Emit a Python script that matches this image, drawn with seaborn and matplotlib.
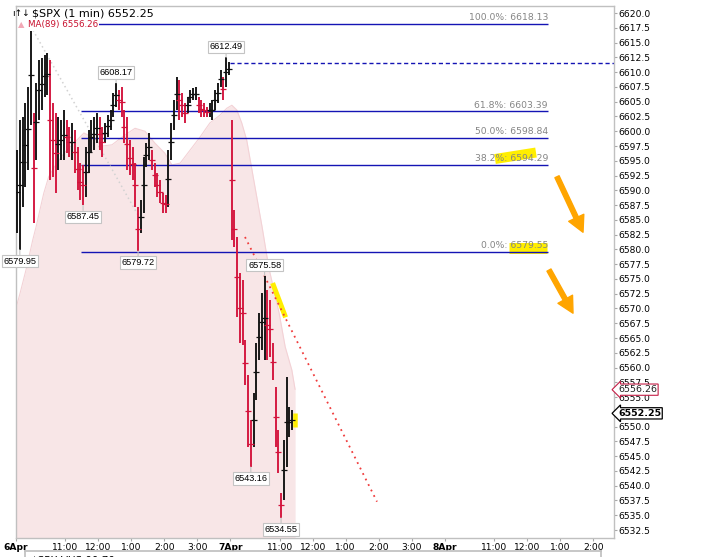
import numpy as np
import pandas as pd
import matplotlib
matplotlib.use("Agg")
import matplotlib.pyplot as plt
import seaborn as sns
from matplotlib.transforms import blended_transform_factory

sns.set_theme(style="white")
plt.rcParams['font.family'] = ['DejaVu Sans']

# ---------------- data ----------------
day_labels = ["6Apr", "7Apr", "8Apr"]
hour_labels = ["11:00", "12:00", "1:00", "2:00", "3:00"]
hour_offsets = [90, 150, 210, 270, 330]          # minutes after the 9:30 open
session_minutes = 390
bar_minutes = 5

day1_high = [6596.82, 6601.89, 6602.40, 6604.77, 6607.48, 6618.13, 6603.08, 6608.15, 6612.05, 6612.38,
             6612.89, 6613.23, 6612.05, 6604.77, 6603.08, 6602.40, 6601.89, 6603.58, 6601.89, 6600.71,
             6601.38, 6600.20, 6597.32, 6594.61, 6594.28, 6597.32, 6600.20, 6601.89, 6602.40, 6603.08,
             6602.40, 6600.71, 6601.38, 6602.74, 6603.58, 6606.46, 6608.17, 6606.97, 6607.48, 6603.58,
             6602.40, 6598.51, 6597.32, 6594.61, 6587.17, 6588.35, 6595.63, 6598.00, 6599.69, 6596.82,
             6594.61, 6592.92, 6591.74, 6589.54, 6589.20, 6596.82, 6601.38, 6605.28, 6609.17, 6608.66,
             6606.46, 6604.77, 6605.78, 6606.97, 6607.31, 6607.48, 6605.78, 6605.28, 6604.77, 6604.09,
             6604.77, 6605.28, 6606.97, 6608.15, 6610.35, 6609.17, 6612.49, 6611.71]
day1_low = [6582.77, 6579.95, 6587.17, 6590.55, 6593.43, 6601.05, 6584.46, 6595.12, 6601.89, 6603.58,
            6605.78, 6606.12, 6591.74, 6592.25, 6589.54, 6593.43, 6595.12, 6595.12, 6596.31, 6595.63,
            6595.12, 6592.92, 6590.05, 6588.35, 6587.45, 6588.86, 6592.92, 6596.31, 6596.82, 6598.00,
            6596.82, 6595.63, 6598.00, 6599.02, 6600.20, 6602.40, 6604.09, 6603.58, 6602.40, 6598.00,
            6593.43, 6592.59, 6591.74, 6587.17, 6579.72, 6582.77, 6586.15, 6593.94, 6595.12, 6593.43,
            6590.55, 6588.86, 6587.85, 6586.15, 6586.15, 6587.17, 6595.12, 6600.20, 6603.58, 6601.89,
            6602.40, 6601.38, 6603.08, 6604.77, 6605.28, 6605.28, 6603.08, 6602.40, 6602.40, 6602.40,
            6602.40, 6601.89, 6603.58, 6604.77, 6607.48, 6605.28, 6607.48, 6609.51]
day2_high = [6601.89, 6586.66, 6582.09, 6576.00, 6574.82, 6564.66, 6558.74, 6551.12, 6555.69, 6564.15,
             6569.23, 6572.62, 6575.58, 6573.12, 6571.43, 6564.15, 6556.71, 6549.43, 6538.77, 6547.74,
             6558.40, 6553.32, 6552.81]
day2_low = [6581.58, 6580.40, 6568.55, 6564.15, 6563.81, 6557.05, 6546.55, 6543.16, 6546.55, 6554.51,
            6561.28, 6562.97, 6561.28, 6561.28, 6561.78, 6557.89, 6546.55, 6542.15, 6534.55, 6537.58,
            6543.17, 6548.25, 6549.43]

ma_minute = [0, 8, 20, 31, 37, 51, 60, 70, 88, 106, 124, 142, 157, 175, 199, 217, 235, 253, 271, 284,
             299, 317, 335, 353, 371, 384, 393, 402, 411, 420, 435, 448, 460, 479, 490, 502, 508]
ma_value = [6569.9, 6572.6, 6577.0, 6581.6, 6583.8, 6589.5, 6592.3, 6593.9, 6596.3, 6598.0,
            6599.7, 6598.9, 6597.5, 6597.7, 6599.4, 6600.5, 6600.0, 6598.0, 6596.3, 6594.3,
            6594.6, 6596.8, 6599.0, 6601.4, 6602.7, 6603.9, 6604.4, 6603.6, 6601.4, 6598.5,
            6590.6, 6583.8, 6577.0, 6569.2, 6563.5, 6559.6, 6556.3]

fib_pct = ["100.0%", "61.8%", "50.0%", "38.2%", "0.0%"]
fib_level = [6618.13, 6603.39, 6598.84, 6594.29, 6579.55]
fib_minute = [118.7, 967.8]

day1_close = 6611.6
last_price = 6552.25
last_ma = 6556.26

# callouts: (bar minute, price, side)
callout_minute = [7.5, 122.5, 182.5, 222.5, 382.5, 452.5, 427.5, 482.5]
callout_price = [6579.95, 6587.45, 6608.17, 6579.72, 6612.49, 6575.58, 6543.16, 6534.55]
callout_side = ["below", "below", "above", "below", "above", "above", "below", "below"]

trend_gray_minute = [31.5, 222.4]
trend_gray_price = [6617.1, 6585.8]
trend_red_minute = [416.9, 656.9]
trend_red_price = [6582.1, 6537.3]

arrow_tail_minute = [984.2, 969.6]
arrow_tail_price = [6592.3, 6576.5]
arrow_tip_minute = [1031.5, 1013.3]
arrow_tip_price = [6582.9, 6569.2]

# yellow marker strokes: (minute0, price0, minute1, price1, width px)
marks = [(871.5, 6595.3, 946.0, 6596.4, 10),
         (896.9, 6580.3, 966.0, 6580.3, 11),
         (467.1, 6574.3, 490.7, 6568.5, 5),
         (507.8, 6552.3, 507.8, 6549.9, 4.5)]

# ---------------- figure ----------------
W, H = 712, 557
fig = plt.figure(figsize=(W / 100, H / 100), dpi=100)
L, R, T, B = 15.7, 614, 6, 537.7
ax = fig.add_axes([L / W, 1 - B / H, (R - L) / W, (B - T) / H])
x_max = (R - L) / 0.55
y_lo, y_hi = 6531.2, 6621.2
ax.set_xlim(0, x_max)
ax.set_ylim(y_lo, y_hi)
px = 0.72  # points per pixel

# MA(89) area
ax.fill_between(ma_minute, ma_value, y_lo, color="#f8e6e7", lw=0, zorder=0)
sns.lineplot(x=ma_minute, y=ma_value, ax=ax, color="#f3d2d6", lw=0.8, zorder=0.5)

# bars
bars = pd.DataFrame({
    "minute": np.r_[np.arange(len(day1_high)) * bar_minutes,
                    session_minutes + np.arange(len(day2_high)) * bar_minutes] + bar_minutes / 2,
    "high": day1_high + day2_high,
    "low": day1_low + day2_low,
})
mid = (bars["high"] + bars["low"]) / 2
bars["up"] = mid.diff().fillna(1) >= 0
red, blk = "#d3133c", "#111111"

# yellow marks (below bars/text)
for m0, p0, m1, p1, wpx in marks:
    ax.plot([m0, m1], [p0, p1], color="#ffee00", lw=wpx * px, solid_capstyle="butt", zorder=1.5)

ax.vlines(bars["minute"], bars["low"], bars["high"],
          colors=np.where(bars["up"], blk, red), lw=1.35, zorder=3)
sns.scatterplot(x=bars["minute"], y=mid, ax=ax, marker="_", s=18, linewidth=0.9,
                hue=bars["up"], palette={True: blk, False: red}, legend=False, zorder=3)

# fib lines
ax.hlines(fib_level, fib_minute[0], fib_minute[1], colors="#1414b4", lw=1.0, zorder=2)
for pct, lev in zip(fib_pct, fib_level):
    ax.annotate(f"{pct}: {lev:.2f}", xy=(fib_minute[1], lev), xytext=(0, 1.2),
                textcoords="offset points", ha="right", va="bottom",
                fontsize=6.7, color="#858585", zorder=4)

# day 1 close dashed
ax.hlines(day1_close, session_minutes, x_max, colors="#1414b4", lw=1.0,
          linestyles=(0, (3, 2)), zorder=2)

# trend lines
ax.plot(trend_gray_minute, trend_gray_price, color="#d2d2d2", lw=1.1, ls=(0, (1, 2)), zorder=2)
ax.plot(trend_red_minute, trend_red_price, color="#f03c3c", lw=1.3, ls=(0, (1, 2.4)), zorder=2.5)

# orange arrows
for tm, tp, hm, hp in zip(arrow_tail_minute, arrow_tail_price, arrow_tip_minute, arrow_tip_price):
    ax.annotate("", xy=(hm, hp), xytext=(tm, tp),
                arrowprops=dict(arrowstyle="simple,head_length=1.15,head_width=1.2,tail_width=0.33",
                                color="#ffa500", mutation_scale=10, shrinkA=0, shrinkB=0), zorder=4)

# callouts
for m, p, side in zip(callout_minute, callout_price, callout_side):
    dy = 10.5 if side == "above" else -11.5
    ax.annotate(f"{p:.2f}", xy=(m, p), xytext=(0, dy * px), textcoords="offset points",
                ha="center", va="center", fontsize=6.6, family="Liberation Sans", color="black",
                bbox=dict(boxstyle="square,pad=0.18", fc="white", ec="#c4c4c4", lw=0.8),
                arrowprops=dict(arrowstyle="-", color="#c4c4c4", lw=0.8, shrinkA=0, shrinkB=0),
                annotation_clip=False, zorder=6)

# axes styling
for s in ax.spines.values():
    s.set_color("#c0c0c0")
    s.set_linewidth(1.0)
ax.grid(False)
ax.yaxis.tick_right()
yt = np.arange(6532.5, 6620.01, 2.5)
ax.set_yticks(yt)
ax.set_yticklabels([f"{v:.1f}" for v in yt])
ax.tick_params(axis="y", length=3 * px, width=0.8, color="#a8a8a8", pad=1, labelsize=6.6,
               labelcolor="black", direction="out", right=True, left=False)

xt, xl, bold = [], [], []
for d, dl in enumerate(day_labels):
    xt.append(d * session_minutes); xl.append(dl); bold.append(True)
    for off, hl in zip(hour_offsets, hour_labels):
        if d * session_minutes + off <= x_max:
            xt.append(d * session_minutes + off); xl.append(hl); bold.append(False)
ax.set_xticks(xt)
ax.set_xticklabels(xl)
ax.tick_params(axis="x", length=3 * px, width=0.8, color="#a8a8a8", pad=1.5, labelsize=6.6,
               labelcolor="black", direction="out", bottom=True)
for lab, b in zip(ax.get_xticklabels(), bold):
    if b:
        lab.set_fontweight("bold")
ax.set_xlabel("")
ax.set_ylabel("")

# right-axis price boxes
tr = blended_transform_factory(ax.transAxes, ax.transData)
ax.text(1.0 + 4 / (R - L), last_ma, f"{last_ma:.2f}", transform=tr, ha="left", va="center",
        fontsize=6.8, color="#222222", zorder=7, clip_on=False,
        bbox=dict(boxstyle="larrow,pad=0.12", fc="white", ec="#c41e46", lw=0.8))
ax.text(1.0 + 4 / (R - L), last_price, f"{last_price:.2f}", transform=tr, ha="left", va="center",
        fontsize=6.8, color="black", fontweight="bold", zorder=7, clip_on=False,
        bbox=dict(boxstyle="larrow,pad=0.12", fc="white", ec="black", lw=0.9))

# header texts
fig.text(12 / W, 1 - 13.5 / H, "ı↑↓", fontsize=6.5, va="center", ha="left", color="black")
fig.text(32 / W, 1 - 13.5 / H, f"$SPX (1 min) {last_price:.2f}", fontsize=8, va="center",
         ha="left", color="black")
fig.text(18 / W, 1 - 25 / H, "▲", fontsize=6, va="center", ha="left", color="#f2a8b6", zorder=5)
fig.text(28 / W, 1 - 25 / H, f"MA(89) {last_ma:.2f}", fontsize=6.3, va="center", ha="left",
         color="#c8102e", zorder=5,
         bbox=dict(boxstyle="square,pad=0.12", fc="white", ec="none"))

# bottom (cut-off) panel
ax2 = fig.add_axes([25 / W, -0.02, (601 - 25) / W, 0.02 + 6 / H])
ax2.set_xticks([]); ax2.set_yticks([])
for s in ax2.spines.values():
    s.set_color("#c0c0c0")
ax2.annotate("$SPX VUS 00.70", xy=(0, 1), xycoords="axes fraction", xytext=(4, -3),
             textcoords="offset points", ha="left", va="top", fontsize=7.5, color="black",
             annotation_clip=False)

fig.savefig("out.png", dpi=100)
